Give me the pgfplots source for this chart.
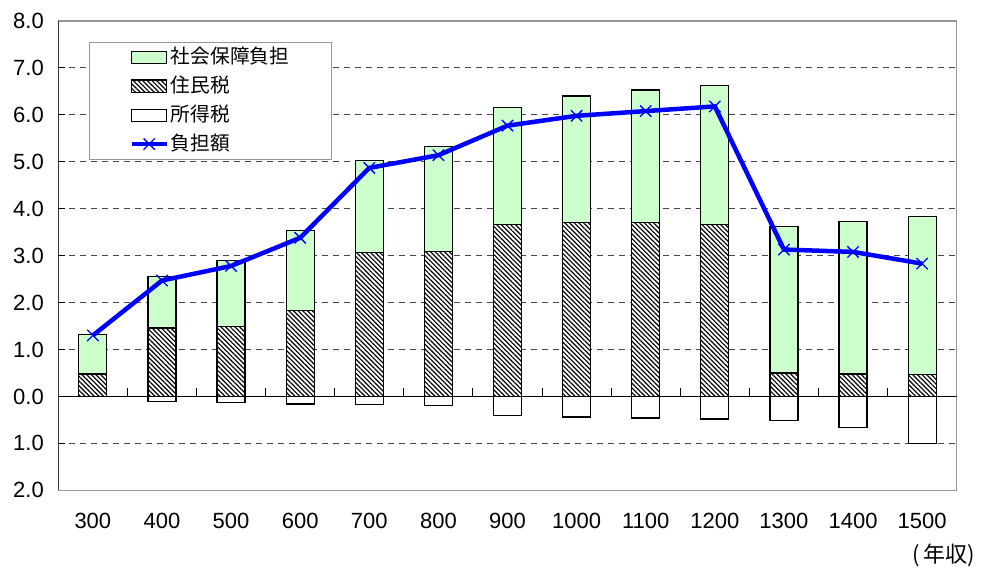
\documentclass[border=0pt]{standalone}
\usepackage{fontspec}
\setmainfont{Liberation Sans}
\newfontfamily\cjk{Noto Sans CJK JP}
\usepackage{pgfplots}
\pgfplotsset{compat=1.18}
\usepackage{pgfplotstable}
\usetikzlibrary{patterns.meta}
\definecolor{lgreen}{RGB}{204,255,204}
\definecolor{gridc}{RGB}{70,70,70}
\definecolor{framec}{RGB}{150,150,150}

\pgfplotsset{
  my area legend/.style={legend image code/.code={\path (-38pt,0pt); \draw[##1] (0pt,-6pt) rectangle (35pt,6pt);}},
  my line legend/.style={legend image code/.code={\path (-38pt,0pt); \draw[##1, mark repeat=2, mark phase=2] plot coordinates {(0pt,0pt) (17.5pt,0pt) (35pt,0pt)};}},
}

% x: category index (300..1500), res: 住民税, soc: 社会保障負担, inc: 所得税 (negative), net: 負担額
\pgfplotstableread{
x  res   soc   inc    net
0  0.48  0.84  0.00   1.30
1  1.46  1.10  -0.10  2.47
2  1.49  1.41  -0.13  2.78
3  1.83  1.71  -0.16  3.38
4  3.06  1.96  -0.17  4.87
5  3.08  2.24  -0.20  5.14
6  3.67  2.48  -0.40  5.77
7  3.70  2.70  -0.44  5.98
8  3.70  2.83  -0.46  6.08
9  3.67  2.96  -0.48  6.18
10 0.50  3.12  -0.51  3.13
11 0.48  3.24  -0.66  3.08
12 0.47  3.37  -1.01  2.83
}\datatable

\begin{document}
\begin{tikzpicture}
\useasboundingbox (0pt,0pt) rectangle (981pt,568pt);
\begin{axis}[
  at={(58.3pt,77.7pt)}, anchor=south west,
  scale only axis, width=898.4pt, height=469.3pt,
  xmin=-0.5, xmax=12.5, ymin=-2, ymax=8,
  xtick={0,...,12},
  xticklabels={300,400,500,600,700,800,900,1000,1100,1200,1300,1400,1500},
  xtick style={draw=none},
  ytick={-2,0,8},
  yticklabels={2.0,0.0,8.0},
  extra y ticks={-1,1,2,3,4,5,6,7},
  extra y tick labels={1.0,1.0,2.0,3.0,4.0,5.0,6.0,7.0},
  extra y tick style={grid=major},
  grid style={gridc, dash pattern=on 6pt off 5pt, line width=0.9pt},
  ytick pos=left, tick align=inside, major tick length=7pt,
  ytick style={black, line width=1pt},
  axis line style={framec, line width=1.1pt},
  /pgf/number format/assume math mode=true,
  tick label style={font=\fontsize{22}{26}\selectfont, black},
  yticklabel style={xshift=-11pt},
  xticklabel style={yshift=-19pt},
  legend style={at={(rel axis cs:0.0342,0.956)}, anchor=north west,
    draw=framec, line width=0.9pt, font=\cjk\fontsize{19.7}{23}\selectfont,
    nodes={inner ysep=0pt, text height=16pt, text depth=4pt},
    row sep=9pt, inner ysep=5pt, inner xsep=2pt},
  legend cell align=left,
]
\addplot[ybar, bar width=0.405, bar shift=0pt, fill=lgreen, draw=black, line width=1.2pt, my area legend]
  table[x=x, y expr=\thisrow{res}+\thisrow{soc}] {\datatable};
\addlegendentry{\makebox[156pt][l]{社会保障負担}}
\addplot[ybar, bar width=0.405, bar shift=0pt, fill=white, draw=black, line width=1.2pt,
  postaction={pattern={Lines[angle=-45,distance=3.3pt,line width=1.2pt]}}, my area legend]
  table[x=x, y=res] {\datatable};
\addlegendentry{\makebox[156pt][l]{住民税}}
\addplot[ybar, bar width=0.405, bar shift=0pt, fill=white, draw=black, line width=1.2pt, my area legend]
  table[x=x, y=inc] {\datatable};
\addlegendentry{\makebox[156pt][l]{所得税}}
\draw[black, line width=1.1pt] (axis cs:-0.5,0) -- (axis cs:12.5,0);
\draw[black, line width=1pt] (axis cs:0.5,0) -- ++(0pt,8pt);
\draw[black, line width=1pt] (axis cs:1.5,0) -- ++(0pt,8pt);
\draw[black, line width=1pt] (axis cs:2.5,0) -- ++(0pt,8pt);
\draw[black, line width=1pt] (axis cs:3.5,0) -- ++(0pt,8pt);
\draw[black, line width=1pt] (axis cs:4.5,0) -- ++(0pt,8pt);
\draw[black, line width=1pt] (axis cs:5.5,0) -- ++(0pt,8pt);
\draw[black, line width=1pt] (axis cs:6.5,0) -- ++(0pt,8pt);
\draw[black, line width=1pt] (axis cs:7.5,0) -- ++(0pt,8pt);
\draw[black, line width=1pt] (axis cs:8.5,0) -- ++(0pt,8pt);
\draw[black, line width=1pt] (axis cs:9.5,0) -- ++(0pt,8pt);
\draw[black, line width=1pt] (axis cs:10.5,0) -- ++(0pt,8pt);
\draw[black, line width=1pt] (axis cs:11.5,0) -- ++(0pt,8pt);
\draw[black, line width=1.2pt] (rel axis cs:0,0) -- (rel axis cs:0,1);
\addplot[blue, line width=4.5pt, mark=x, mark size=8pt, mark options={line width=1.3pt, blue}, my line legend]
  table[x=x, y=net] {\datatable};
\addlegendentry{\makebox[156pt][l]{負担額}}
\end{axis}
\node[font=\cjk\fontsize{22}{26}\selectfont] at (944pt,13pt) {(\,年収)};
\end{tikzpicture}
\end{document}
